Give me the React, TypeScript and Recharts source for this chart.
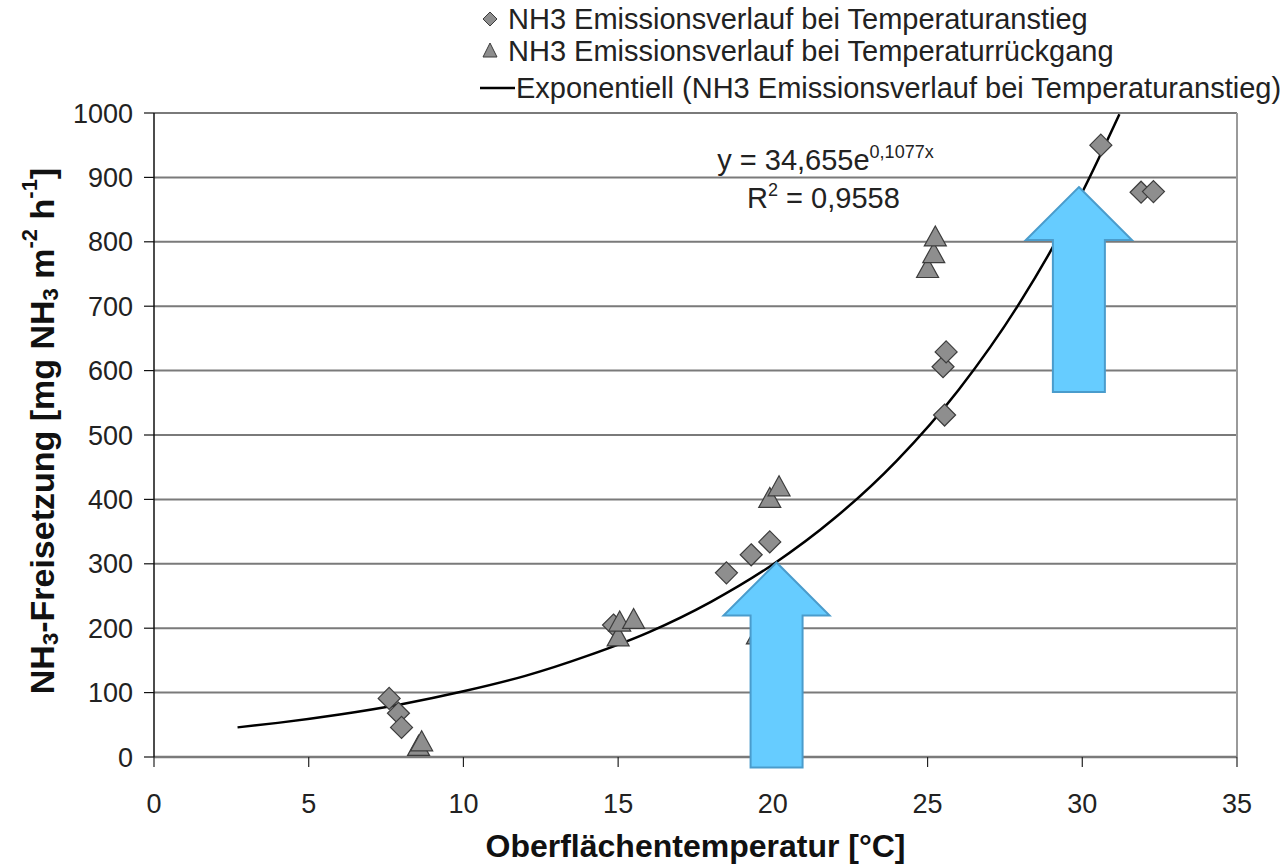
import React from "react";
import {
  ComposedChart, Scatter, Line, XAxis, YAxis,
  CartesianGrid, ReferenceLine, ReferenceDot,
} from "recharts";

const FONT = '"Liberation Sans", Arial, sans-serif';

const xTicks = [0, 5, 10, 15, 20, 25, 30, 35];
const yTicks = [0, 100, 200, 300, 400, 500, 600, 700, 800, 900, 1000];

// NH3 Emissionsverlauf bei Temperaturanstieg
const anstieg = [
  { x: 7.6, y: 91 }, { x: 7.9, y: 68 }, { x: 8.0, y: 46 },
  { x: 14.85, y: 205 },
  { x: 18.5, y: 286 }, { x: 19.3, y: 314 }, { x: 19.9, y: 334 },
  { x: 25.55, y: 531 }, { x: 25.5, y: 606 }, { x: 25.6, y: 629 },
  { x: 30.6, y: 950 }, { x: 31.9, y: 877 }, { x: 32.3, y: 878 },
];

// NH3 Emissionsverlauf bei Temperaturrückgang
const rueckgang = [
  { x: 8.55, y: 15 }, { x: 8.65, y: 22 },
  { x: 15.0, y: 185 }, { x: 15.05, y: 208 }, { x: 15.5, y: 212 },
  { x: 19.5, y: 188 }, { x: 19.9, y: 400 }, { x: 20.2, y: 418 },
  { x: 25.0, y: 757 }, { x: 25.2, y: 780 }, { x: 25.25, y: 806 },
];

// Exponentieller Trend
const trend = [
  { x: 2.7, y: 46 }, { x: 4, y: 53 }, { x: 6, y: 66 }, { x: 8, y: 82 },
  { x: 10, y: 102 }, { x: 12, y: 126 }, { x: 14, y: 157 }, { x: 16, y: 194 },
  { x: 18, y: 241 }, { x: 20, y: 299 }, { x: 22, y: 371 }, { x: 24, y: 460 },
  { x: 26, y: 570 }, { x: 28, y: 707 }, { x: 30, y: 877 }, { x: 31.2, y: 998 },
];

// Pfeile (Spitze)
const arrows = [
  { x: 20.12, y: 302 },
  { x: 29.89, y: 885 },
];

const MARKER_FILL = "#8e8e8e";
const MARKER_STROKE = "#3c3c3c";

const Diamond = ({ cx, cy }: any) => (
  <path
    d={`M${cx},${cy - 11} L${cx + 11},${cy} L${cx},${cy + 11} L${cx - 11},${cy} Z`}
    fill={MARKER_FILL} stroke={MARKER_STROKE} strokeWidth={1.2}
  />
);

const Triangle = ({ cx, cy }: any) => (
  <path
    d={`M${cx},${cy - 12} L${cx + 11},${cy + 8} L${cx - 11},${cy + 8} Z`}
    fill={MARKER_FILL} stroke={MARKER_STROKE} strokeWidth={1.2}
  />
);

const Arrow = ({ cx, cy }: any) => {
  const d = [
    [0, 0], [53, 53], [26, 53], [26, 205], [-26, 205], [-26, 53], [-53, 53],
  ].map(([dx, dy], i) => `${i ? "L" : "M"}${cx + dx},${cy + dy}`).join(" ") + " Z";
  return <path d={d} fill="#66ccff" stroke="#4a9ccc" strokeWidth={2} />;
};

const Equation = ({ cx, cy }: any) => (
  <g fontFamily={FONT} fill="#222" fontSize={29}>
    <text x={cx} y={cy} textAnchor="middle">
      y = 34,655e<tspan dy={-12} fontSize={18}>0,1077x</tspan>
    </text>
    <text x={cx - 2} y={cy + 38} textAnchor="middle">
      R<tspan dy={-12} fontSize={18}>2</tspan><tspan dy={12}> = 0,9558</tspan>
    </text>
  </g>
);

const YTitle = ({ viewBox }: any) => {
  const cx = 42;
  const cy = 431;
  return (
    <text
      x={cx} y={cy} transform={`rotate(-90, ${cx}, ${cy})`}
      textAnchor="middle" dominantBaseline="central"
      fontFamily={FONT} fontWeight="bold" fontSize={34} fill="#111"
    >
      NH<tspan dy={8} fontSize={22}>3</tspan>
      <tspan dy={-8}>-Freisetzung [mg NH</tspan>
      <tspan dy={8} fontSize={22}>3</tspan>
      <tspan dy={-8}> m</tspan>
      <tspan dy={-13} fontSize={22}>-2</tspan>
      <tspan dy={13}> h</tspan>
      <tspan dy={-13} fontSize={22}>-1</tspan>
      <tspan dy={13}>]</tspan>
    </text>
  );
};

const XTitle = ({ viewBox }: any) => (
  <text
    x={viewBox.x + viewBox.width / 2} y={857} textAnchor="middle"
    fontFamily={FONT} fontWeight="bold" fontSize={32} fill="#111"
  >
    Oberflächentemperatur [°C]
  </text>
);

const legendItems = [
  { label: "NH3 Emissionsverlauf bei Temperaturanstieg", icon: "diamond", top: 4 },
  { label: "NH3 Emissionsverlauf bei Temperaturrückgang", icon: "triangle", top: 36 },
  { label: "Exponentiell (NH3 Emissionsverlauf bei Temperaturanstieg)", icon: "line", top: 73 },
];

function LegendBox() {
  return (
    <>
      {legendItems.map((it) => (
        <div
          key={it.label}
          style={{
            position: "absolute", left: 478, top: it.top, height: 30,
            display: "flex", alignItems: "center",
            fontFamily: FONT, fontSize: 29, color: "#222", whiteSpace: "nowrap",
          }}
        >
          <svg width={38} height={30}>
            {it.icon === "diamond" && (
              <path d="M12,8 L19,15 L12,22 L5,15 Z" fill={MARKER_FILL} stroke={MARKER_STROKE} />
            )}
            {it.icon === "triangle" && (
              <path d="M12,7 L19,21 L5,21 Z" fill={MARKER_FILL} stroke={MARKER_STROKE} />
            )}
            {it.icon === "line" && <line x1={2} x2={37} y1={15} y2={15} stroke="#000" strokeWidth={2.5} />}
          </svg>
          <span style={{ marginLeft: it.icon === "line" ? 0 : -8 }}>{it.label}</span>
        </div>
      ))}
    </>
  );
}

export default function App() {
  return (
    <div style={{ position: "absolute", left: 0, top: 0, width: 1281, height: 865, background: "#fff" }}>
      <ComposedChart
        width={1281} height={865}
        margin={{ top: 113, right: 44, bottom: 58, left: 84 }}
      >
        <CartesianGrid vertical={false} stroke="#7a7a7a" strokeWidth={2} />
        <XAxis
          type="number" dataKey="x" domain={[0, 35]} ticks={xTicks} interval={0}
          height={50} tickSize={10} tickMargin={27}
          axisLine={{ stroke: "#7a7a7a", strokeWidth: 2.5 }}
          tickLine={{ stroke: "#222", strokeWidth: 1.2 }}
          tick={{ fontSize: 27, fill: "#222", fontFamily: FONT }}
          label={<XTitle />}
        />
        <YAxis
          type="number" domain={[0, 1000]} ticks={yTicks} interval={0}
          width={70} tickSize={10} tickMargin={11}
          axisLine={{ stroke: "#111", strokeWidth: 1.5 }}
          tickLine={{ stroke: "#111", strokeWidth: 1.2 }}
          tick={{ fontSize: 27, fill: "#222", fontFamily: FONT }}
          label={<YTitle />}
        />
        <ReferenceLine x={35} stroke="#9a9a9a" strokeWidth={2} />
        <Scatter data={anstieg} dataKey="y" shape={<Diamond />} isAnimationActive={false} />
        <Scatter data={rueckgang} dataKey="y" shape={<Triangle />} isAnimationActive={false} />
        <Line
          data={trend} dataKey="y" type="monotone" dot={false} activeDot={false}
          stroke="#000" strokeWidth={2.5} isAnimationActive={false}
        />
        <ReferenceDot x={21.7} y={911} r={0} shape={<Equation />} />
        {arrows.map((a, i) => (
          <ReferenceDot key={i} x={a.x} y={a.y} r={0} shape={<Arrow />} />
        ))}
      </ComposedChart>
      <LegendBox />
    </div>
  );
}
